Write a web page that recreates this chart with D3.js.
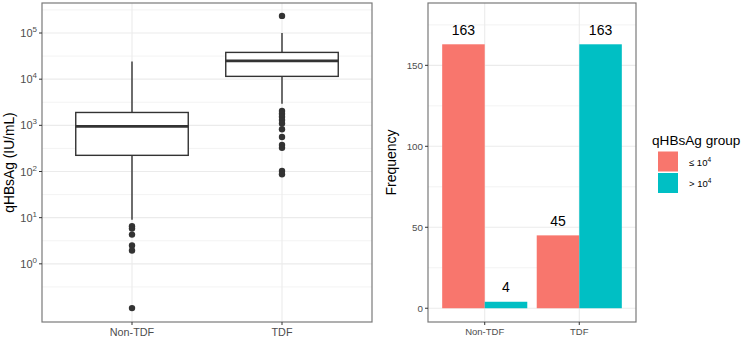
<!DOCTYPE html>
<html>
<head>
<meta charset="utf-8">
<script src="https://cdn.jsdelivr.net/npm/d3@7"></script>
<style>
  body { margin: 0; background: #fff; }
  svg { font-family: "Liberation Sans", Arial, sans-serif; }
</style>
</head>
<body>
<svg id="chart" width="750" height="340"></svg>
<script>
// --- data ---
const groups = ["Non-TDF", "TDF"];
const boxQ1 = [224, 11500];
const boxMedian = [950, 25000];
const boxQ3 = [1900, 38000];
const whiskerLow = [9, 2950];
const whiskerHigh = [24000, 100000];
const outliersNonTDF = [6.5, 5.8, 4.3, 2.5, 1.95, 0.11];
const outliersTDF = [235000, 2040, 1790, 1540, 1300, 1100, 820, 560, 375, 325, 103, 87];
const logTicks = [1, 10, 100, 1000, 10000, 100000];
const logTickExp = ["0", "1", "2", "3", "4", "5"];

const hbGroups = ["≤", ">"];
const freqLow = [163, 45];
const freqHigh = [4, 163];
const freqTicks = [0, 50, 100, 150];
const colors = ["#F8766D", "#00BFC4"];

const svg = d3.select("#chart");
const grid = "#EBEBEB";
const border = "#7a7a7a";
const tickCol = "#4D4D4D";

// ---------- left panel: box plot ----------
const L = { x0: 42, x1: 372, y0: 3, y1: 322 };
const xL = d3.scalePoint().domain(groups).range([L.x0, L.x1]).padding(0.6);
const yL = d3.scaleLog().domain([Math.pow(10, -1.26), Math.pow(10, 5.65)]).range([L.y1, L.y0]);
const gL = svg.append("g");

// minor grid at half decades
d3.range(-0.5, 6, 1).forEach(e => {
  const y = yL(Math.pow(10, e));
  if (y > L.y0 && y < L.y1)
    gL.append("line").attr("x1", L.x0).attr("x2", L.x1).attr("y1", y).attr("y2", y)
      .attr("stroke", grid).attr("stroke-width", 0.6);
});
logTicks.forEach(t => {
  gL.append("line").attr("x1", L.x0).attr("x2", L.x1).attr("y1", yL(t)).attr("y2", yL(t))
    .attr("stroke", grid).attr("stroke-width", 1.1);
});
groups.forEach(g => {
  gL.append("line").attr("x1", xL(g)).attr("x2", xL(g)).attr("y1", L.y0).attr("y2", L.y1)
    .attr("stroke", grid).attr("stroke-width", 1.1);
});

const boxW = xL.step() * 0.75;
const outliers = [outliersNonTDF, outliersTDF];
groups.forEach((g, i) => {
  const cx = xL(g);
  const bg = gL.append("g").attr("stroke", "#333").attr("fill", "none");
  bg.append("line").attr("x1", cx).attr("x2", cx).attr("y1", yL(whiskerHigh[i])).attr("y2", yL(boxQ3[i])).attr("stroke-width", 1.4);
  bg.append("line").attr("x1", cx).attr("x2", cx).attr("y1", yL(boxQ1[i])).attr("y2", yL(whiskerLow[i])).attr("stroke-width", 1.4);
  bg.append("rect").attr("x", cx - boxW / 2).attr("width", boxW)
    .attr("y", yL(boxQ3[i])).attr("height", yL(boxQ1[i]) - yL(boxQ3[i]))
    .attr("fill", "#fff").attr("stroke-width", 1.4);
  bg.append("line").attr("x1", cx - boxW / 2).attr("x2", cx + boxW / 2)
    .attr("y1", yL(boxMedian[i])).attr("y2", yL(boxMedian[i])).attr("stroke-width", 2.8);
  gL.selectAll(null).data(outliers[i]).enter().append("circle")
    .attr("cx", cx).attr("cy", d => yL(d)).attr("r", 3.2).attr("fill", "#333");
});

gL.append("rect").attr("x", L.x0).attr("y", L.y0).attr("width", L.x1 - L.x0).attr("height", L.y1 - L.y0)
  .attr("fill", "none").attr("stroke", border).attr("stroke-width", 1.2);

// left axes
const yAxisL = gL.append("g");
logTicks.forEach((t, i) => {
  const y = yL(t);
  yAxisL.append("line").attr("x1", L.x0 - 3).attr("x2", L.x0).attr("y1", y).attr("y2", y).attr("stroke", "#333");
  const tx = yAxisL.append("text").attr("x", L.x0 - 5).attr("y", y + 4)
    .attr("text-anchor", "end").attr("fill", tickCol).attr("font-size", 11);
  tx.append("tspan").text("10");
  tx.append("tspan").attr("dy", -5).attr("font-size", 8).text(logTickExp[i]);
});
groups.forEach(g => {
  gL.append("line").attr("x1", xL(g)).attr("x2", xL(g)).attr("y1", L.y1).attr("y2", L.y1 + 3).attr("stroke", "#333");
  gL.append("text").attr("x", xL(g)).attr("y", L.y1 + 14).attr("text-anchor", "middle")
    .attr("fill", tickCol).attr("font-size", 10.8).text(g);
});
gL.append("text").attr("transform", `translate(14,${(L.y0 + L.y1) / 2}) rotate(-90)`)
  .attr("text-anchor", "middle").attr("font-size", 13.8).attr("fill", "#000").text("qHBsAg (IU/mL)");

// ---------- right panel: bar chart ----------
const R = { x0: 428, x1: 636, y0: 3, y1: 322 };
const xR = d3.scalePoint().domain(groups).range([R.x0, R.x1]).padding(0.6);
const yR = d3.scaleLinear().domain([-8.5, 188.5]).range([R.y1, R.y0]);
const gR = svg.append("g");

[25, 75, 125, 175].forEach(t => {
  gR.append("line").attr("x1", R.x0).attr("x2", R.x1).attr("y1", yR(t)).attr("y2", yR(t))
    .attr("stroke", grid).attr("stroke-width", 0.6);
});
freqTicks.forEach(t => {
  gR.append("line").attr("x1", R.x0).attr("x2", R.x1).attr("y1", yR(t)).attr("y2", yR(t))
    .attr("stroke", grid).attr("stroke-width", 1.1);
});
groups.forEach(g => {
  gR.append("line").attr("x1", xR(g)).attr("x2", xR(g)).attr("y1", R.y0).attr("y2", R.y1)
    .attr("stroke", grid).attr("stroke-width", 1.1);
});

const barW = xR.step() * 0.9 / 2;
const freqs = [freqLow, freqHigh];
freqs.forEach((series, k) => {
  groups.forEach((g, i) => {
    const x = xR(g) - barW + k * barW;
    gR.append("rect").attr("x", x).attr("width", barW)
      .attr("y", yR(series[i])).attr("height", yR(0) - yR(series[i])).attr("fill", colors[k]);
    gR.append("text").attr("x", x + barW / 2).attr("y", yR(series[i]) - 9.5)
      .attr("text-anchor", "middle").attr("font-size", 14).attr("fill", "#000").text(series[i]);
  });
});

gR.append("rect").attr("x", R.x0).attr("y", R.y0).attr("width", R.x1 - R.x0).attr("height", R.y1 - R.y0)
  .attr("fill", "none").attr("stroke", border).attr("stroke-width", 1.2);

freqTicks.forEach(t => {
  gR.append("line").attr("x1", R.x0 - 3).attr("x2", R.x0).attr("y1", yR(t)).attr("y2", yR(t)).attr("stroke", "#333");
  gR.append("text").attr("x", R.x0 - 5).attr("y", yR(t) + 3.5).attr("text-anchor", "end")
    .attr("fill", tickCol).attr("font-size", 9.8).text(t);
});
groups.forEach(g => {
  gR.append("line").attr("x1", xR(g)).attr("x2", xR(g)).attr("y1", R.y1).attr("y2", R.y1 + 3).attr("stroke", "#333");
  gR.append("text").attr("x", xR(g)).attr("y", R.y1 + 13).attr("text-anchor", "middle")
    .attr("fill", tickCol).attr("font-size", 9.5).text(g);
});
gR.append("text").attr("transform", `translate(396,${(R.y0 + R.y1) / 2}) rotate(-90)`)
  .attr("text-anchor", "middle").attr("font-size", 14).attr("fill", "#000").text("Frequency");

// legend
const lg = svg.append("g").attr("transform", "translate(652,0)");
lg.append("text").attr("x", 0).attr("y", 145).attr("font-size", 13.6).attr("fill", "#000").text("qHBsAg group");
hbGroups.forEach((s, k) => {
  const y = 151.5 + k * 21.5;
  lg.append("rect").attr("x", 6).attr("y", y).attr("width", 20).attr("height", 20).attr("fill", colors[k]);
  const t = lg.append("text").attr("x", 37).attr("y", y + 14).attr("font-size", 9.5).attr("fill", "#000");
  t.append("tspan").text(s + " 10");
  t.append("tspan").attr("dy", -4).attr("font-size", 6.5).text("4");
});
</script>
</body>
</html>
